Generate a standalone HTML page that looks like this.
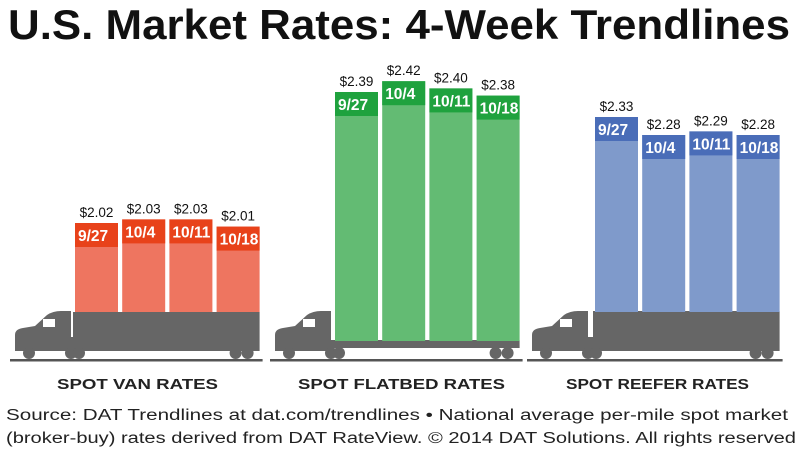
<!DOCTYPE html>
<html><head><meta charset="utf-8"><style>
body{margin:0;background:#fff;width:800px;height:450px;overflow:hidden}
svg text{font-family:"Liberation Sans",sans-serif}
</style></head><body>
<svg id="c" width="800" height="450" xmlns="http://www.w3.org/2000/svg">
<text x="8" y="39" font-size="42" font-weight="bold" textLength="782" lengthAdjust="spacingAndGlyphs" fill="#111">U.S. Market Rates: 4-Week Trendlines</text>
<text x="6" y="420" font-size="15.5" textLength="782" lengthAdjust="spacingAndGlyphs" fill="#222">Source: DAT Trendlines at dat.com/trendlines • National average per-mile spot market</text>
<text x="6" y="443" font-size="15.5" textLength="790" lengthAdjust="spacingAndGlyphs" fill="#222">(broker-buy) rates derived from DAT RateView. © 2014 DAT Solutions. All rights reserved</text>
</svg>
<script>
const weeks = ["9/27","10/4","10/11","10/18"];
const vanRates = [2.02,2.03,2.03,2.01];
const flatbedRates = [2.39,2.42,2.40,2.38];
const reeferRates = [2.33,2.28,2.29,2.28];
const groupNames = ["SPOT VAN RATES","SPOT FLATBED RATES","SPOT REEFER RATES"];

const NS="http://www.w3.org/2000/svg";
const svg=document.getElementById('c');
function mk(t,a){const e=document.createElementNS(NS,t);for(const k in a)e.setAttribute(k,a[k]);svg.appendChild(e);return e;}
const G=359;
function yScale(anchorY,anchorV){return v=>anchorY-(v-anchorV)*360;}
const groups=[
 {vals:vanRates,x0:75,bottom:312,y:yScale(223,2.02),light:"#ee7560",dark:"#e8421a",cab:15,type:"van",lx:57,lw:161},
 {vals:flatbedRates,x0:335,bottom:341,y:yScale(92,2.39),light:"#63bb73",dark:"#1fa23e",cab:275,type:"flat",lx:298,lw:207},
 {vals:reeferRates,x0:595,bottom:312,y:yScale(117,2.33),light:"#7f9acb",dark:"#4a6db8",cab:532,type:"reefer",lx:566,lw:183}
];
const bw=43,gap=4.2;
groups.forEach((g,gi)=>{
  const c=g.cab,tl=g.x0-2;
  const cab=mk('path',{d:`M${c} ${G-8} L${c} ${G-24} Q${c} ${G-30} ${c+8} ${G-31} L${c+20} ${G-33} L${c+32} ${G-44} Q${c+38} ${G-48} ${c+46} ${G-48} L${c+56} ${G-48} L${c+56} ${G-8} Z`,fill:"#666"});
  
  
  const win=mk('rect',{x:c+28,y:G-40,width:12,height:8,fill:"#fff"});
  
  
  let trailerEnd=g.x0+4*bw+3*gap;
  if(g.type==="flat"){
    const d=mk('rect',{x:c+56,y:G-19,width:trailerEnd-(c+56),height:8,fill:"#666"});
    
    
  } else {
    const tr=mk('rect',{x:tl,y:g.type==="van"?312:311,width:trailerEnd-tl,height:G-8-(g.type==="van"?312:311),fill:"#666"});
    
    
    const gp=mk('rect',{x:c+56,y:G-22,width:tl-(c+56),height:12,fill:"#666"});
    
    
  }
  [c+14,c+56,c+64,trailerEnd-24,trailerEnd-12].forEach(wx=>{
    const w=mk('circle',{cx:wx,cy:G-6,r:6,fill:"#666"});
    
    
  });
  const gl=mk('rect',{x:c-5,y:G,width:trailerEnd-c+8,height:2.5,fill:"#555"});
  
  
  g.vals.forEach((v,i)=>{
    const x=g.x0+i*(bw+gap), top=g.y(v);
    const b=mk('rect',{x:x,y:top,width:bw,height:g.bottom-top,fill:g.light});
    
    
    const band=mk('rect',{x:x,y:top,width:bw,height:24,fill:g.dark});
    
    
    const wt=mk('text',{x:x+3,y:top+18,"font-size":15.5,"font-weight":"bold",fill:"#fff"});
    wt.textContent=weeks[i];
    
    
    const vt=mk('text',{x:x+bw/2,y:top-6,"font-size":13.5,"text-anchor":"middle",fill:"#111"});
    vt.textContent="$"+v.toFixed(2);
    
    
  });
  const lab=mk('text',{x:g.lx,y:389,"font-size":15,"font-weight":"bold",textLength:g.lw,lengthAdjust:"spacingAndGlyphs",fill:"#222"});
  lab.textContent=groupNames[gi];
  
  
});
</script>
</body></html>
